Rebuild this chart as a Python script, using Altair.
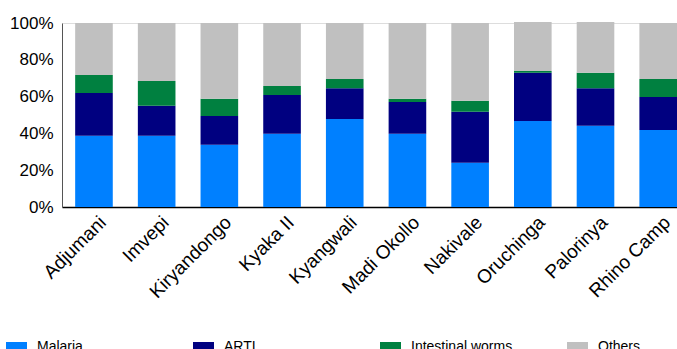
import altair as alt
import pandas as pd

sites = ["Adjumani", "Imvepi", "Kiryandongo", "Kyaka II", "Kyangwali",
         "Madi Okollo", "Nakivale", "Oruchinga", "Palorinya", "Rhino Camp"]
categories = ["Malaria", "ARTI", "Intestinal worms", "Others"]
colors = ["#0080FF", "#000080", "#008040", "#C0C0C0"]

malaria = [38.7, 38.7, 33.8, 39.8, 47.8, 39.8, 24.0, 46.7, 44.1, 41.9]
arti = [23.3, 16.3, 15.7, 21.1, 16.8, 17.3, 27.7, 26.2, 20.5, 17.9]
worms = [9.7, 13.5, 9.3, 4.9, 5.0, 1.7, 6.0, 1.0, 8.3, 9.8]
others = [28.3, 31.5, 41.2, 34.2, 30.4, 41.2, 42.3, 26.6, 27.6, 30.4]

rows = []
for i, s in enumerate(sites):
    for k, (cat, vals) in enumerate(zip(categories, [malaria, arti, worms, others])):
        rows.append({"site": s, "category": cat, "value": vals[i], "order": k})
df = pd.DataFrame(rows)

FONT = "Liberation Sans"

chart = alt.Chart(df).mark_bar().encode(
    x=alt.X("site:N", sort=sites,
            scale=alt.Scale(paddingInner=0.4, paddingOuter=0.105, align=1),
            axis=alt.Axis(title=None, labelAngle=-45, labelAlign="right",
                          labelBaseline="middle", labelOffset=9, labelPadding=12,
                          labelFontSize=19, labelFont=FONT, labelColor="#000000",
                          ticks=False, domainColor="#000000", domainWidth=1.5)),
    y=alt.Y("value:Q", stack="zero",
            scale=alt.Scale(domain=[0, 100], nice=False),
            axis=alt.Axis(title=None, values=[0, 20, 40, 60, 80, 100],
                          labelExpr="datum.value + '%'", grid=False, ticks=False,
                          labelPadding=9, labelFontSize=17, labelFont=FONT,
                          labelColor="#000000", domainColor="#555555")),
    color=alt.Color("category:N", sort=categories,
                    scale=alt.Scale(domain=categories, range=colors),
                    legend=alt.Legend(title=None, orient="none", legendX=-56, legendY=313,
                                      direction="horizontal", columns=4, gridAlign="all",
                                      columnPadding=54, labelFontSize=14, labelFont=FONT,
                                      labelColor="#000000", labelOffset=10,
                                      symbolType="M-1,-0.45H1V0.45H-1Z", symbolSize=441,
                                      symbolStrokeWidth=0, symbolOpacity=1)),
    order=alt.Order("order:Q", sort="ascending"),
).properties(
    width=615, height=184,
    autosize=alt.AutoSizeParams(type="none"),
    padding={"left": 62, "top": 23, "right": 0, "bottom": 142},
).configure_view(stroke=None).configure(background="white")

chart.save("out.html", embed_options={"renderer": "svg", "actions": False})
